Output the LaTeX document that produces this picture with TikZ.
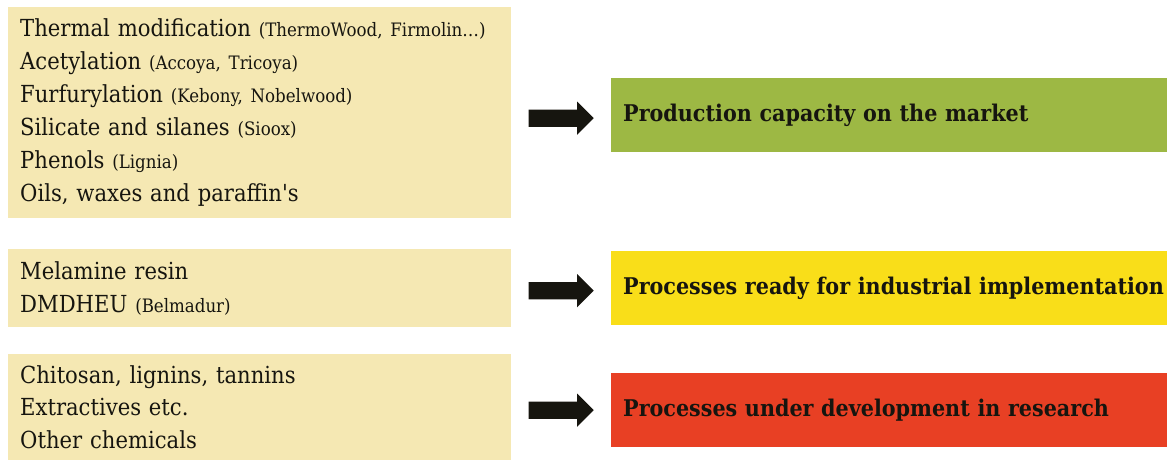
\documentclass[tikz,border=0pt]{standalone}
\usepackage{fontspec}
\setmainfont{DejaVu Serif Condensed}
\usetikzlibrary{positioning,shapes.arrows}

\definecolor{sandfill}{RGB}{245,232,179}
\definecolor{marketgreen}{RGB}{157,184,68}
\definecolor{readyyellow}{RGB}{249,222,25}
\definecolor{researchred}{RGB}{232,64,36}
\definecolor{inkblack}{RGB}{22,21,15}
\newcommand{\brand}[1]{{\fontsize{18.5}{18.5}\selectfont #1}}

\begin{document}
\begin{tikzpicture}[x=1pt,y=-1pt]

	\tikzstyle{source box}=[anchor=north west, fill=sandfill, text=inkblack, text width=479pt, inner xsep=12pt, inner ysep=0pt, align=left, font=\fontsize{23.5}{32.9}\selectfont];
	\tikzstyle{stage box}=[anchor=north west, text=inkblack, text width=544pt, minimum height=74pt, inner xsep=12pt, inner ysep=0pt, align=left, font=\fontsize{23}{28}\selectfont\bfseries];
	\tikzstyle{block arrow}=[single arrow, fill=inkblack, inner sep=8.5pt, minimum height=65pt, single arrow head extend=8pt];

	\useasboundingbox (0,0) rectangle (1167,460);

	% treatments
	\node[source box, minimum height=211pt] (modified) at (8,7) {Thermal modification \brand{(ThermoWood, Firmolin…)}\\
		Acetylation \brand{(Accoya, Tricoya)}\\
		Furfurylation \brand{(Kebony, Nobelwood)}\\
		Silicate and silanes \brand{(Sioox)}\\
		Phenols \brand{(Lignia)}\\
		Oils, waxes and paraffin\textquotesingle s};
	\node[source box, minimum height=78pt] (resins) at (8,249) {Melamine resin\\
		DMDHEU \brand{(Belmadur)}};
	\node[source box, minimum height=106pt] (biobased) at (8,354) {Chitosan, lignins, tannins\\
		Extractives etc.\\
		Other chemicals};

	% maturity
	\node[stage box, fill=marketgreen] (market) at (611,78) {Production capacity on the market};
	\node[stage box, fill=readyyellow] (industrial) at (611,251) {Processes ready for industrial implementation};
	\node[stage box, fill=researchred] (research) at (611,373) {Processes under development in research};

	\node[block arrow, left=17pt of market, yshift=-3pt] (toMarket) {};
	\node[block arrow, left=17pt of industrial, yshift=-2.5pt] (toIndustrial) {};
	\node[block arrow, left=17pt of research] (toResearch) {};

\end{tikzpicture}
\end{document}
